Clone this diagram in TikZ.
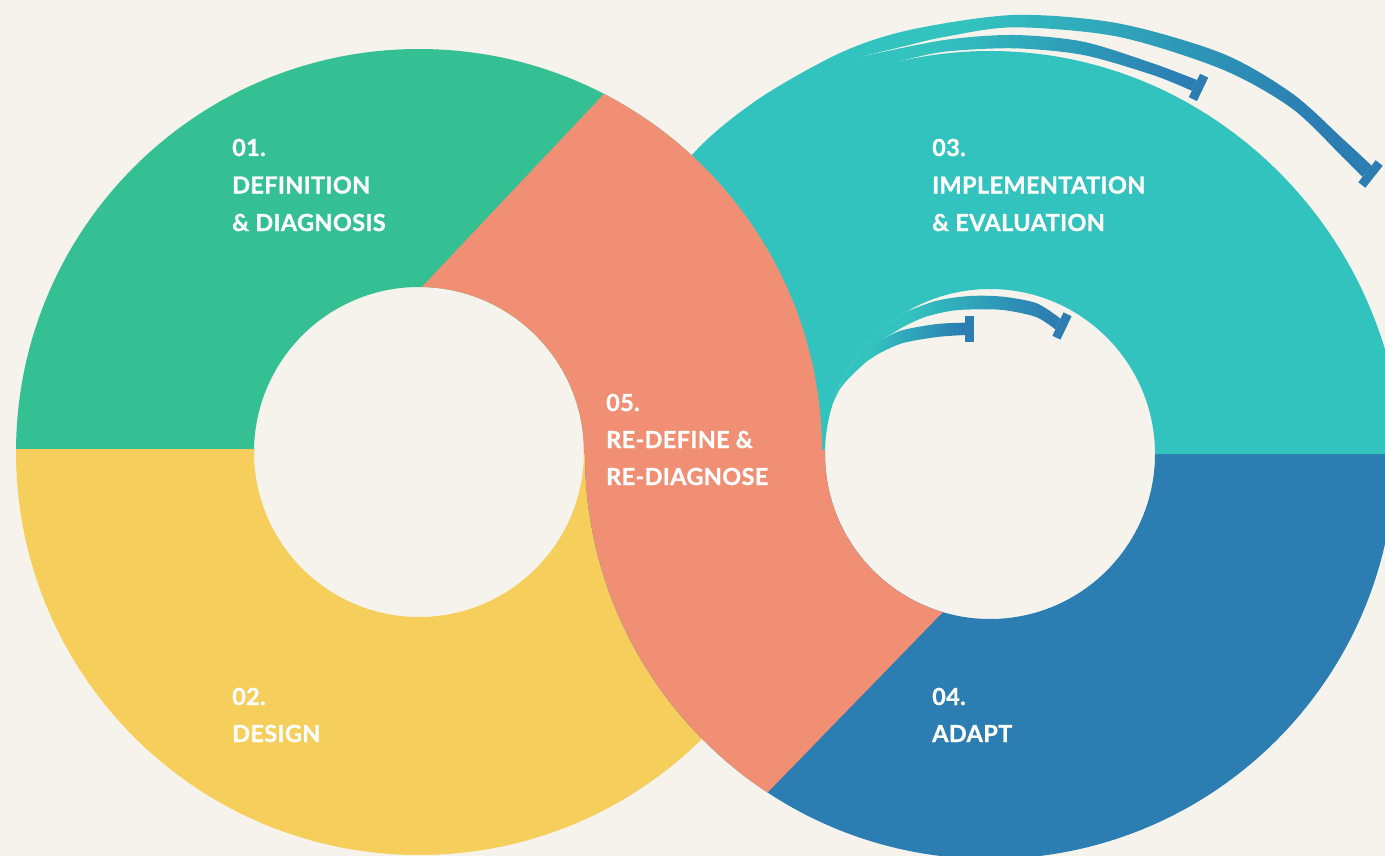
\documentclass[tikz,border=0pt]{standalone}
\usepackage{fontspec}
\setmainfont{Lato}
\newfontfamily\capfont[LetterSpace=1.5, BoldFeatures={FakeBold=1}]{Lato}
\definecolor{bg}{HTML}{F6F3EC}
\definecolor{cGreen}{HTML}{34C093}
\definecolor{cYellow}{HTML}{F6CE5B}
\definecolor{cSalmon}{HTML}{F18F75}
\definecolor{cTeal}{HTML}{33C3BF}
\definecolor{cBlue}{HTML}{2B7DB2}
\tikzset{
  stagetext/.style={text=white, font=\capfont\fontsize{23.5}{28}\selectfont\bfseries,
    inner sep=0pt, anchor=base west},
  % horizontal teal-to-blue ramp between two absolute x positions
  sweep/.style 2 args={path picture={
      \fill[cTeal] (-10,-10) rectangle (#1,870);
      \shade[left color=cTeal, right color=cBlue] (#1,-10) rectangle (#2,870);
      \fill[cBlue] (#2,-10) rectangle (1400,870);}},
  ring/.style={even odd rule},
  capbar/.style={fill=cBlue},
}
\begin{document}
\begin{tikzpicture}[x=1pt,y=-1pt]
\clip (0,0) rectangle (1385,856);
\fill[bg] (0,0) rectangle (1385,856);

% left ring: green upper half, yellow lower half
\begin{scope}
  \clip (-10,-10) rectangle (1400,449.5);
  \fill[cGreen, ring] (419,452) circle[radius=403] (419,452) circle[radius=165];
\end{scope}
\begin{scope}
  \clip (-10,449.5) rectangle (1400,870);
  \fill[cYellow, ring] (419,452) circle[radius=403] (419,452) circle[radius=165];
\end{scope}

% right ring: blue lower half
\begin{scope}
  \clip (-10,454) rectangle (1400,870);
  \fill[cBlue, ring] (990,454) circle[radius=405] (990,454) circle[radius=165];
\end{scope}

% right ring: teal upper half, its rim widening slightly towards the right
\fill[cTeal] (1403,454)
  -- plot[domain=0:60, samples=41]
       ({990+(403+10*(1-\x/60)^2)*cos(\x)}, {454-(403+10*(1-\x/60)^2)*sin(\x)})
  arc[start angle=-60, end angle=-103, radius=403]
  -- (861,56.7) -- (800,90) -- (700,170) -- (587,454)
  -- (825,454) arc[start angle=180, end angle=360, radius=165] -- cycle;

% outer sweeping arrow, growing out of the teal rim
\path[sweep={960}{1320}] (587,454)
  -- plot[smooth] coordinates {(587,454) (593.3,347.7) (629.5,245.8) (692,155) (757,100)
       (840,53) (909.5,30) (1013.8,15) (1118,23.3) (1222,53.3) (1292,93.3) (1344,140)
       (1371.5,165.5)}
  -- (1362.5,177)
  -- plot[smooth] coordinates {(1362.5,177) (1344,158.5) (1292,108.5) (1222,69.3)
       (1118,36.7) (1013.8,27.3) (944,37) (905,46) (861,56.7)}
  -- (835,115) -- (720,200) -- (640,454) -- cycle;
\fill[capbar] (1375.7,160.2) -- (1382.7,165.8) -- (1365.3,187.8) -- (1358.3,182.2) -- cycle;

% second sweeping arrow along the rim
\path[sweep={930}{1185}] (861,56.7)
  -- plot[smooth] coordinates {(861,56.7) (944.3,40) (1013.8,35) (1083.3,41.7)
       (1152.8,63.3) (1197,80)}
  -- (1191.9,90.8)
  -- plot[smooth] coordinates {(1191.9,90.8) (1152.8,75) (1083.3,55) (1013.8,48.3)
       (944.3,51.7) (899.35,61.33)}
  -- (880,72) -- cycle;
\fill[capbar] (1200.1,73.7) -- (1208.2,77.7) -- (1196.9,101.1) -- (1188.8,97.1) -- cycle;

% re-define segment crossing both rings
\begin{scope}
  \clip (264.4,454) -- (702,-10) -- (900,-10) -- (900,454) -- cycle;
  \fill[cSalmon, ring] (419,452) circle[radius=403] (419,452) circle[radius=165];
\end{scope}
\begin{scope}
  \clip (1100.9,449.5) -- (692.2,870) -- (500,870) -- (500,449.5) -- cycle;
  \fill[cSalmon, ring] (990,454) circle[radius=405] (990,454) circle[radius=165];
\end{scope}

% inner arrows around the hole
\path[sweep={910}{1050}] (833.08,403.01) arc[start angle=-162, end angle=-120.3, radius=165]
  -- plot[smooth] coordinates {(906.76,311.53) (936.7,300.7) (970,296) (1003,296.7)
       (1036.7,303.3) (1060.5,318.7)}
  -- (1055.4,329.5)
  -- plot[smooth] coordinates {(1055.4,329.5) (1036,317) (1003,310) (970,309.5)
       (950,311) (925,317) (905,326) (888,336) (870,348)}
  -- (866,362)
  -- plot[smooth] coordinates {(866,362) (850,377) (840,389) (833.08,403.01)}
  -- cycle;
\fill[capbar] (1063.5,312.4) -- (1071.6,316.2) -- (1060.4,339.6) -- (1052.4,335.8) -- cycle;

\path[sweep={870}{962}] (870,348)
  -- plot[smooth] coordinates {(870,348) (885,338) (903,330) (937,324) (965,322.7)}
  -- (965,335)
  -- plot[smooth] coordinates {(965,335) (937,337) (903,343) (880,353) (866,362)}
  -- (863,354) -- cycle;
\fill[capbar] (965,316) rectangle (974,341.7);

% stage captions
\node[stagetext] (s1n) at (232,156) {01.};
\node[stagetext] (s1a) at (232,193.5) {DEFINITION};
\node[stagetext] (s1b) at (232,231) {\&{} DIAGNOSIS};

\node[stagetext] (s2n) at (232,705) {02.};
\node[stagetext] (s2a) at (232,742) {DESIGN};

\node[stagetext] (s3n) at (932,156) {03.};
\node[stagetext] (s3a) at (932,193.5) {IMPLEMENTATION};
\node[stagetext] (s3b) at (932,231) {\&{} EVALUATION};

\node[stagetext] (s4n) at (932,705) {04.};
\node[stagetext] (s4a) at (932,742) {ADAPT};

\node[stagetext] (s5n) at (606,411) {05.};
\node[stagetext] (s5a) at (606,448) {RE-DEFINE \&};
\node[stagetext] (s5b) at (606,485) {RE-DIAGNOSE};
\end{tikzpicture}
\end{document}
